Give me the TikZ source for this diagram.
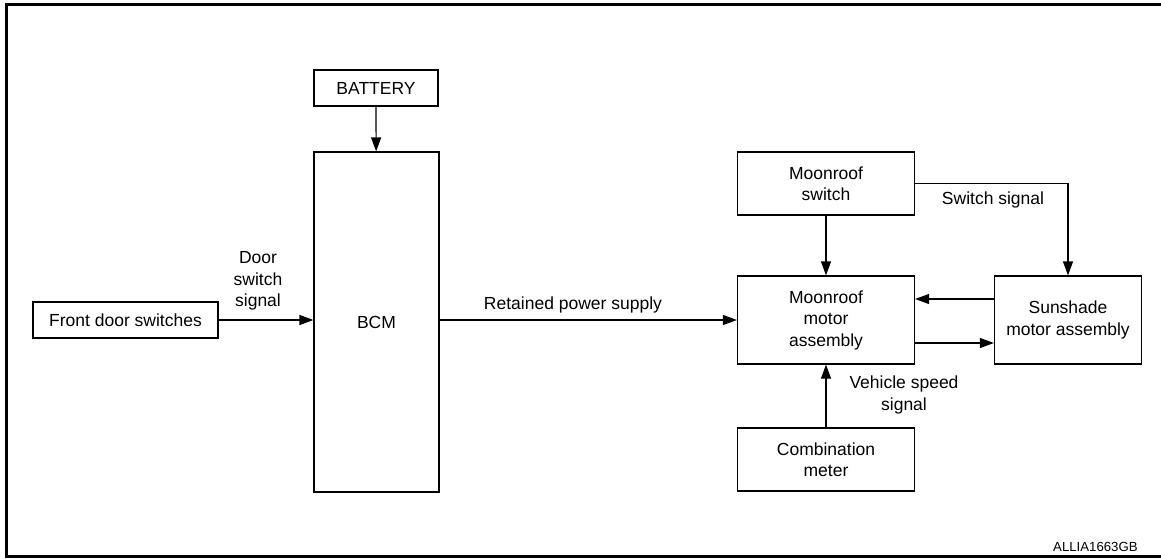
\documentclass[tikz,border=0pt]{standalone}
\usepackage{fontspec}
\setmainfont{Liberation Sans}
\usetikzlibrary{arrows.meta}
\begin{document}
\begin{tikzpicture}[x=0.5pt,y=-0.5pt,
  kasten/.style={draw,line width=0.6pt,align=center,inner sep=0pt,font=\fontsize{8.75}{10.75}\selectfont},
  pfeil/.style={line width=0.6pt,-{Triangle[length=7pt,width=5pt]}},
  beschr/.style={align=center,inner sep=0pt,font=\fontsize{8.75}{10.75}\selectfont}]
\useasboundingbox (0,0) rectangle (1161,558);
% Rahmen
\draw[line width=1.5pt] (1165,4) -- (6,4) -- (6,556) -- (1165,556);
% Kaesten
\node[kasten,minimum width=62pt,minimum height=18pt] (battery) at (376,88) {BATTERY};
\node[kasten,minimum width=62.5pt,minimum height=170pt] (bcm) at (376.5,322) {BCM};
\node[kasten,minimum width=92.5pt,minimum height=18pt] (front) at (125.5,320) {Front door switches};
\node[kasten,minimum width=88.5pt,minimum height=31.5pt] (mswitch) at (826,183.5) {Moonroof\\switch};
\node[kasten,minimum width=88.5pt,minimum height=44pt] (mmotor) at (826,320) {Moonroof\\motor\\assembly};
\node[kasten,minimum width=73.5pt,minimum height=44pt] (sunshade) at (1068,320) {Sunshade\\motor assembly};
\node[kasten,minimum width=88.5pt,minimum height=31.5pt] (combo) at (826,459.5) {Combination\\meter};
% Pfeile
\draw[pfeil] (battery) -- (bcm);
\draw[pfeil] (front) -- (front -| bcm.west);
\draw[pfeil] (bcm.east |- mmotor) -- (mmotor);
\draw[pfeil] (mswitch) -- (mmotor);
\draw[pfeil] (mswitch.east) -| (sunshade.north);
\draw[pfeil] ([yshift=10.5pt]sunshade.west) -- ([yshift=10.5pt]mmotor.east);
\draw[pfeil] ([yshift=-11.5pt]mmotor.east) -- ([yshift=-11.5pt]sunshade.west);
\draw[pfeil] (combo) -- (mmotor);
% Beschriftungen
\node[beschr] (doorsig) at (258,281) {Door\\switch\\signal};
\node[beschr] (powersig) at (573,305) {Retained power supply};
\node[beschr] (switchsig) at (993,200) {Switch signal};
\node[beschr] (speedsig) at (904,395) {Vehicle speed\\signal};
\node[beschr,anchor=east,font=\fontsize{6.6}{8}\selectfont] (code) at (1138,547) {ALLIA1663GB};
\end{tikzpicture}
\end{document}
